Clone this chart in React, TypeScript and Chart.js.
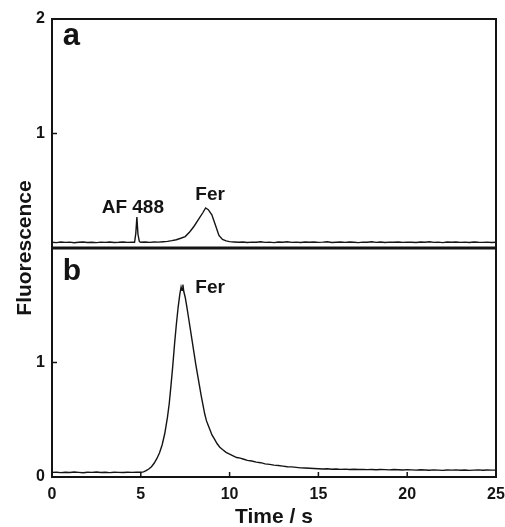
import React, { useEffect, useRef } from "react";
import { Chart, registerables } from "chart.js";

Chart.register(...registerables);

// ---- Data ----
const xTicks = [0, 5, 10, 15, 20, 25];

// Panel a
const timeA = [
  0, 0.25, 0.5, 0.75, 1, 1.25, 1.5, 1.75, 2, 2.25, 2.5, 2.75, 3, 3.25, 3.5, 3.75, 4, 4.25, 4.5,
  4.65, 4.72, 4.78, 4.84, 4.92, 5,
  5.25, 5.5, 5.75, 6, 6.25, 6.5, 6.75, 7, 7.25, 7.5, 7.75, 8, 8.25, 8.5, 8.65, 8.8, 9, 9.2, 9.4, 9.6, 9.8, 10, 10.25, 10.5,
  10.75, 11, 11.25, 11.5, 11.75, 12, 12.25, 12.5, 12.75, 13, 13.25, 13.5, 13.75, 14, 14.25, 14.5, 14.75, 15,
  15.25, 15.5, 15.75, 16, 16.25, 16.5, 16.75, 17, 17.25, 17.5, 17.75, 18, 18.25, 18.5, 18.75, 19, 19.25, 19.5, 19.75, 20,
  20.25, 20.5, 20.75, 21, 21.25, 21.5, 21.75, 22, 22.25, 22.5, 22.75, 23, 23.25, 23.5, 23.75, 24, 24.25, 24.5, 24.75, 25,
];
const fluorA = [
  0.05, 0.047, 0.052, 0.049, 0.051, 0.046, 0.05, 0.053, 0.048, 0.05, 0.047, 0.051, 0.049, 0.052, 0.048, 0.05, 0.053, 0.049, 0.051,
  0.05, 0.13, 0.27, 0.12, 0.056, 0.05,
  0.052, 0.049, 0.053, 0.051, 0.055, 0.058, 0.064, 0.072, 0.085, 0.1, 0.14, 0.19, 0.25, 0.31, 0.35, 0.335, 0.29, 0.2, 0.11, 0.075, 0.062, 0.056, 0.053, 0.05,
  0.052, 0.048, 0.051, 0.05, 0.054, 0.049, 0.051, 0.047, 0.052, 0.05, 0.055, 0.049, 0.051, 0.048, 0.053, 0.05, 0.052, 0.049,
  0.051, 0.054, 0.048, 0.05, 0.052, 0.049, 0.053, 0.05, 0.047, 0.051, 0.05, 0.054, 0.049, 0.052, 0.048, 0.051, 0.05, 0.053, 0.049, 0.051,
  0.05, 0.048, 0.052, 0.05, 0.054, 0.049, 0.051, 0.047, 0.052, 0.05, 0.053, 0.049, 0.051, 0.048, 0.052, 0.05, 0.049, 0.051, 0.048, 0.05,
];

// Panel b
const timeB = [
  0, 0.25, 0.5, 0.75, 1, 1.25, 1.5, 1.75, 2, 2.25, 2.5, 2.75, 3, 3.25, 3.5, 3.75, 4, 4.25, 4.5, 4.75, 5,
  5.15, 5.3, 5.45, 5.6, 5.75, 5.9, 6.05, 6.2, 6.35, 6.5, 6.6, 6.7, 6.8, 6.9, 7.0, 7.1, 7.2, 7.27, 7.32, 7.37, 7.42,
  7.5, 7.6, 7.7, 7.8, 7.9, 8.0, 8.1, 8.2, 8.3, 8.4, 8.5, 8.6, 8.7, 8.8, 8.9, 9.0, 9.15, 9.3, 9.45, 9.6, 9.8, 10.0,
  10.2, 10.4, 10.6, 10.8, 11, 11.25, 11.5, 11.75, 12, 12.25, 12.5, 12.75, 13, 13.25, 13.5, 13.75, 14, 14.25, 14.5, 14.75, 15,
  15.25, 15.5, 15.75, 16, 16.25, 16.5, 16.75, 17, 17.25, 17.5, 17.75, 18, 18.25, 18.5, 18.75, 19, 19.25, 19.5, 19.75, 20,
  20.25, 20.5, 20.75, 21, 21.25, 21.5, 21.75, 22, 22.25, 22.5, 22.75, 23, 23.25, 23.5, 23.75, 24, 24.25, 24.5, 24.75, 25,
];
const fluorB = [
  0.04, 0.042, 0.038, 0.041, 0.039, 0.043, 0.04, 0.037, 0.041, 0.04, 0.043, 0.039, 0.041, 0.038, 0.042, 0.04, 0.039, 0.042, 0.04, 0.043, 0.041,
  0.045, 0.055, 0.07, 0.09, 0.12, 0.16, 0.21, 0.28, 0.38, 0.52, 0.64, 0.8, 0.97, 1.16, 1.33, 1.48, 1.6, 1.66, 1.63, 1.68, 1.62,
  1.57, 1.48, 1.38, 1.28, 1.18, 1.08, 0.98, 0.89, 0.8, 0.71, 0.63, 0.55, 0.49, 0.45, 0.41, 0.37, 0.33, 0.29, 0.26, 0.24, 0.215, 0.2,
  0.185, 0.17, 0.165, 0.155, 0.145, 0.14, 0.13, 0.125, 0.115, 0.11, 0.104, 0.1, 0.095, 0.09, 0.088, 0.084, 0.08, 0.078, 0.076, 0.074, 0.072,
  0.07, 0.072, 0.068, 0.07, 0.067, 0.069, 0.066, 0.068, 0.065, 0.067, 0.064, 0.066, 0.063, 0.066, 0.064, 0.062, 0.065, 0.063, 0.061, 0.064,
  0.062, 0.06, 0.063, 0.061, 0.059, 0.062, 0.06, 0.058, 0.061, 0.06, 0.062, 0.059, 0.061, 0.058, 0.06, 0.062, 0.059, 0.061, 0.06, 0.06,
];

const yTickLabelsA = ["", "1", "2"];
const yTickLabelsB = ["0", "1", ""];

const annotations = [
  { text: "AF 488", x: 4.55, y: 0.31, axis: "yA", size: 19, align: "center" },
  { text: "Fer", x: 8.9, y: 0.42, axis: "yA", size: 19, align: "center" },
  { text: "Fer", x: 8.9, y: 1.607, axis: "yB", size: 19, align: "center" },
  { text: "a", x: 0.6, y: 1.77, axis: "yA", size: 31, align: "left" },
  { text: "b", x: 0.6, y: 1.72, axis: "yB", size: 30, align: "left" },
];

const FONT = "'Liberation Sans', Arial, sans-serif";
const INK = "#141414";

const framePlugin = {
  id: "frame",
  afterDraw(chart: any) {
    const { ctx, chartArea } = chart;
    const { left, right, top, bottom } = chartArea;
    const xs = chart.scales.x;
    const yA = chart.scales.yA;
    const yB = chart.scales.yB;
    ctx.save();
    ctx.strokeStyle = INK;
    ctx.lineWidth = 2;
    ctx.strokeRect(left, top, right - left, bottom - top);
    // divider
    ctx.lineWidth = 3;
    ctx.beginPath();
    ctx.moveTo(left, yA.bottom);
    ctx.lineTo(right, yA.bottom);
    ctx.stroke();
    // inward ticks
    ctx.lineWidth = 1.5;
    ctx.beginPath();
    xs.ticks.forEach((t: any) => {
      const px = xs.getPixelForValue(t.value);
      ctx.moveTo(px, bottom);
      ctx.lineTo(px, bottom - 5);
    });
    [yA, yB].forEach((sc: any) => {
      sc.ticks.forEach((t: any) => {
        const py = sc.getPixelForValue(t.value);
        ctx.moveTo(left, py);
        ctx.lineTo(left + 5, py);
      });
    });
    ctx.stroke();
    // annotations
    ctx.fillStyle = INK;
    ctx.textBaseline = "alphabetic";
    annotations.forEach((a) => {
      ctx.font = `bold ${a.size}px ${FONT}`;
      ctx.textAlign = a.align as CanvasTextAlign;
      const sc = chart.scales[a.axis];
      ctx.fillText(a.text, xs.getPixelForValue(a.x), sc.getPixelForValue(a.y));
    });
    // axis titles
    ctx.font = `bold 21px ${FONT}`;
    ctx.textAlign = "center";
    ctx.fillText("Time / s", (left + right) / 2, 523);
    ctx.save();
    ctx.translate(31, (top + bottom) / 2);
    ctx.rotate(-Math.PI / 2);
    ctx.fillText("Fluorescence", 0, 0);
    ctx.restore();
    ctx.restore();
  },
};

function App() {
  const ref = useRef<HTMLCanvasElement | null>(null);
  useEffect(() => {
    if (!ref.current) return;
    const tickFont = { family: FONT, size: 16, weight: "bold" as const };
    const chart = new Chart(ref.current, {
      type: "line",
      data: {
        datasets: [
          {
            label: "a",
            data: timeA.map((t, i) => ({ x: t, y: fluorA[i] })),
            yAxisID: "yA",
            borderColor: INK,
            borderWidth: 1.4,
            pointRadius: 0,
            tension: 0,
            fill: false,
          },
          {
            label: "b",
            data: timeB.map((t, i) => ({ x: t, y: fluorB[i] })),
            yAxisID: "yB",
            borderColor: INK,
            borderWidth: 1.4,
            pointRadius: 0,
            tension: 0,
            fill: false,
          },
        ],
      },
      options: {
        responsive: false,
        animation: false,
        devicePixelRatio: 1,
        layout: { padding: { left: 0, right: 9, top: 19, bottom: 0 } },
        plugins: { legend: { display: false }, tooltip: { enabled: false } },
        scales: {
          x: {
            type: "linear",
            min: 0,
            max: 25,
            afterBuildTicks: (s: any) => {
              s.ticks = xTicks.map((v) => ({ value: v }));
            },
            afterFit: (s: any) => {
              s.height = 50;
              s.paddingLeft = 0;
              s.paddingRight = 0;
            },
            grid: { display: false, drawTicks: false },
            border: { display: false },
            ticks: { font: tickFont, color: INK, padding: 8, maxRotation: 0, autoSkip: false },
          },
          yB: {
            type: "linear",
            position: "left",
            stack: "y",
            stackWeight: 1,
            min: 0,
            max: 2,
            afterBuildTicks: (s: any) => {
              s.ticks = [0, 1, 2].map((v) => ({ value: v }));
            },
            afterFit: (s: any) => {
              s.width = 52;
            },
            grid: { display: false, drawTicks: false },
            border: { display: false },
            ticks: {
              font: tickFont,
              color: INK,
              padding: 7,
              autoSkip: false,
              callback: (v: any) => yTickLabelsB[Math.round(Number(v))] ?? "",
            },
          },
          yA: {
            type: "linear",
            position: "left",
            stack: "y",
            stackWeight: 1,
            min: 0,
            max: 2,
            afterBuildTicks: (s: any) => {
              s.ticks = [0, 1, 2].map((v) => ({ value: v }));
            },
            afterFit: (s: any) => {
              s.width = 52;
            },
            grid: { display: false, drawTicks: false },
            border: { display: false },
            ticks: {
              font: tickFont,
              color: INK,
              padding: 7,
              autoSkip: false,
              callback: (v: any) => yTickLabelsA[Math.round(Number(v))] ?? "",
            },
          },
        },
      },
      plugins: [framePlugin],
    });
    return () => chart.destroy();
  }, []);
  return (
    <div style={{ position: "fixed", left: 0, top: 0, width: 505, height: 527, background: "#fff" }}>
      <canvas ref={ref} width={505} height={527} style={{ display: "block" }} />
    </div>
  );
}

export default App;
